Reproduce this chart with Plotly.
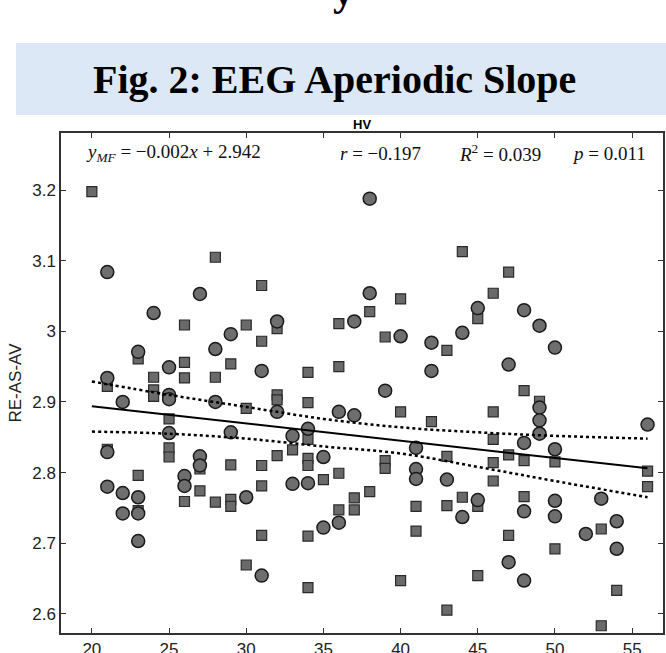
import plotly.graph_objects as go

# ---------------- data ----------------
circle_x = [21, 21, 21, 21, 22, 22, 22, 23, 23, 23, 23, 24, 25, 25, 25, 25, 26, 26,
            27, 27, 27, 28, 28, 29, 29, 30, 31, 31, 32, 32, 33, 33, 34, 34, 35, 35,
            36, 36, 37, 37, 38, 38, 39, 40, 41, 41, 41, 42, 42, 43, 44, 44, 45, 45,
            47, 47, 48, 48, 48, 48, 49, 49, 49, 49, 50, 50, 50, 50, 52, 53, 54, 54, 56]
circle_y = [3.084, 2.934, 2.829, 2.780, 2.900, 2.771, 2.742, 2.971, 2.765, 2.742, 2.703,
            3.026, 2.949, 2.910, 2.904, 2.856, 2.795, 2.781, 3.053, 2.823, 2.810,
            2.975, 2.900, 2.996, 2.857, 2.765, 2.944, 2.654, 3.014, 2.886, 2.852, 2.784,
            2.862, 2.785, 2.822, 2.722, 2.886, 2.729, 3.014, 2.881, 3.188, 3.054,
            2.916, 2.993, 2.835, 2.805, 2.791, 2.984, 2.944, 2.790, 2.998, 2.737,
            3.033, 2.761, 2.953, 2.673, 3.030, 2.842, 2.745, 2.647, 3.008, 2.892,
            2.874, 2.855, 2.977, 2.833, 2.760, 2.738, 2.713, 2.763, 2.731, 2.692, 2.868]

square_x = [20, 21, 21, 23, 23, 23, 24, 24, 24, 25, 25, 25, 26, 26, 26, 26, 27, 27,
            28, 28, 28, 29, 29, 29, 29, 30, 30, 30, 31, 31, 31, 31, 31, 32, 32, 32, 32,
            33, 34, 34, 34, 34, 34, 34, 34, 35, 36, 36, 36, 36, 37, 37, 38, 38,
            39, 39, 39, 40, 40, 40, 41, 41, 42, 43, 43, 43, 43, 44, 44, 45, 45, 45,
            46, 46, 46, 46, 46, 47, 47, 47, 48, 48, 48, 49, 50, 50, 53, 53, 54, 56, 56]
square_y = [3.198, 2.922, 2.833, 2.961, 2.796, 2.746, 2.935, 2.917, 2.908, 2.876, 2.835,
            2.822, 3.009, 2.956, 2.934, 2.759, 2.805, 2.774, 3.105, 2.935, 2.758,
            2.954, 2.811, 2.762, 2.752, 3.009, 2.891, 2.669, 3.065, 2.986, 2.810, 2.781,
            2.711, 3.004, 2.910, 2.903, 2.824, 2.832, 2.942, 2.899, 2.847, 2.820, 2.810,
            2.710, 2.637, 2.790, 3.011, 2.950, 2.799, 2.747, 2.764, 2.747, 3.028, 2.773,
            2.992, 2.817, 2.806, 3.046, 2.886, 2.647, 2.752, 2.717, 2.872, 2.973, 2.823,
            2.753, 2.605, 3.113, 2.765, 3.018, 2.752, 2.654, 3.054, 2.886, 2.847, 2.814,
            2.788, 3.084, 2.825, 2.711, 2.916, 2.817, 2.766, 2.901, 2.815, 2.692, 2.720,
            2.583, 2.633, 2.802, 2.780]

fit_x = [20, 56]
fit_y = [2.894, 2.806]

ci_x = [20, 25, 30, 35, 40, 45, 50, 56]
ci_upper = [2.929, 2.910, 2.893, 2.876, 2.864, 2.857, 2.852, 2.848]
ci_lower = [2.858, 2.855, 2.848, 2.837, 2.827, 2.808, 2.788, 2.765]

x_ticks = [20, 25, 30, 35, 40, 45, 50, 55]
y_ticks = [2.6, 2.7, 2.8, 2.9, 3.0, 3.1, 3.2]
y_tick_labels = ["2.6", "2.7", "2.8", "2.9", "3", "3.1", "3.2"]

banner_title = "Fig. 2: EEG Aperiodic Slope"
panel_title = "HV"
y_label = "RE-AS-AV"
stats = ["<i>y</i><sub><i>MF</i></sub> = \u22120.002<i>x</i> + 2.942",
         "<i>r</i> = \u22120.197",
         "<i>R</i><sup>2</sup> = 0.039",
         "<i>p</i> = 0.011"]
stats_pos = [0.187, 0.530, 0.729, 0.910]

# ---------------- figure ----------------
W, H = 666, 653
ml, mr, mt, mb = 61, 3, 133, 20
pw, ph = W - ml - mr, H - mt - mb

def px_x(p):
    return (p - ml) / pw

def px_y(p):
    return (H - mb - p) / ph

fig = go.Figure()

fig.add_trace(go.Scatter(
    x=square_x, y=square_y, mode="markers",
    marker=dict(symbol="square", size=10, color="#6a6a6a",
                line=dict(color="#2a2a2a", width=1.2)),
    showlegend=False, hoverinfo="skip"))

fig.add_trace(go.Scatter(
    x=circle_x, y=circle_y, mode="markers",
    marker=dict(symbol="circle", size=13, color="#6e6e6e",
                line=dict(color="#1a1a1a", width=1.5)),
    showlegend=False, hoverinfo="skip"))

fig.add_trace(go.Scatter(
    x=ci_x, y=ci_upper, mode="lines", line=dict(color="black", width=2.5, dash="dot", shape="spline"),
    showlegend=False, hoverinfo="skip"))
fig.add_trace(go.Scatter(
    x=ci_x, y=ci_lower, mode="lines", line=dict(color="black", width=2.5, dash="dot", shape="spline"),
    showlegend=False, hoverinfo="skip"))
fig.add_trace(go.Scatter(
    x=fit_x, y=fit_y, mode="lines", line=dict(color="black", width=2),
    showlegend=False, hoverinfo="skip"))

# banner
fig.add_shape(type="rect", xref="paper", yref="paper",
              x0=px_x(16), x1=px_x(668), y0=px_y(115), y1=px_y(43),
              fillcolor="#dce8f5", line=dict(width=0), layer="below")

annotations = [
    dict(text="<b>" + banner_title + "</b>", xref="paper", yref="paper",
         x=px_x(334), y=px_y(80), xanchor="center", yanchor="middle", showarrow=False,
         font=dict(family="Liberation Serif", size=40, color="black")),
    dict(text="<b>y</b>", xref="paper", yref="paper",
         x=px_x(343), y=px_y(-34), xanchor="center", yanchor="top", showarrow=False,
         font=dict(family="Liberation Serif", size=42, color="black")),
    dict(text="<b>" + panel_title + "</b>", xref="paper", yref="paper",
         x=0.5, y=px_y(124), xanchor="center", yanchor="middle", showarrow=False,
         font=dict(family="Liberation Sans", size=13, color="black")),
]
for s, xp in zip(stats, stats_pos):
    annotations.append(dict(text=s, xref="paper", yref="paper", x=xp, y=px_y(153),
                            xanchor="center", yanchor="middle", showarrow=False,
                            font=dict(family="Liberation Serif", size=19, color="#111")))
fig.update_layout(annotations=annotations)

axis_common = dict(showgrid=False, zeroline=False, showline=True, linecolor="#333",
                   linewidth=1.5, mirror="ticks", ticks="inside", ticklen=5,
                   tickwidth=1.2, tickcolor="#333",
                   tickfont=dict(family="Liberation Sans", size=17, color="#222"))

fig.update_xaxes(range=[18, 57], tickvals=x_ticks, **axis_common)
fig.update_yaxes(range=[2.5727, 3.281], tickvals=y_ticks, ticktext=y_tick_labels,
                 title=dict(text=y_label, font=dict(family="Liberation Sans", size=17, color="#222"),
                            standoff=6),
                 **axis_common)

fig.update_layout(width=W, height=H, margin=dict(l=ml, r=mr, t=mt, b=mb, autoexpand=False),
                  plot_bgcolor="white", paper_bgcolor="white")

fig.write_html("out.html")
